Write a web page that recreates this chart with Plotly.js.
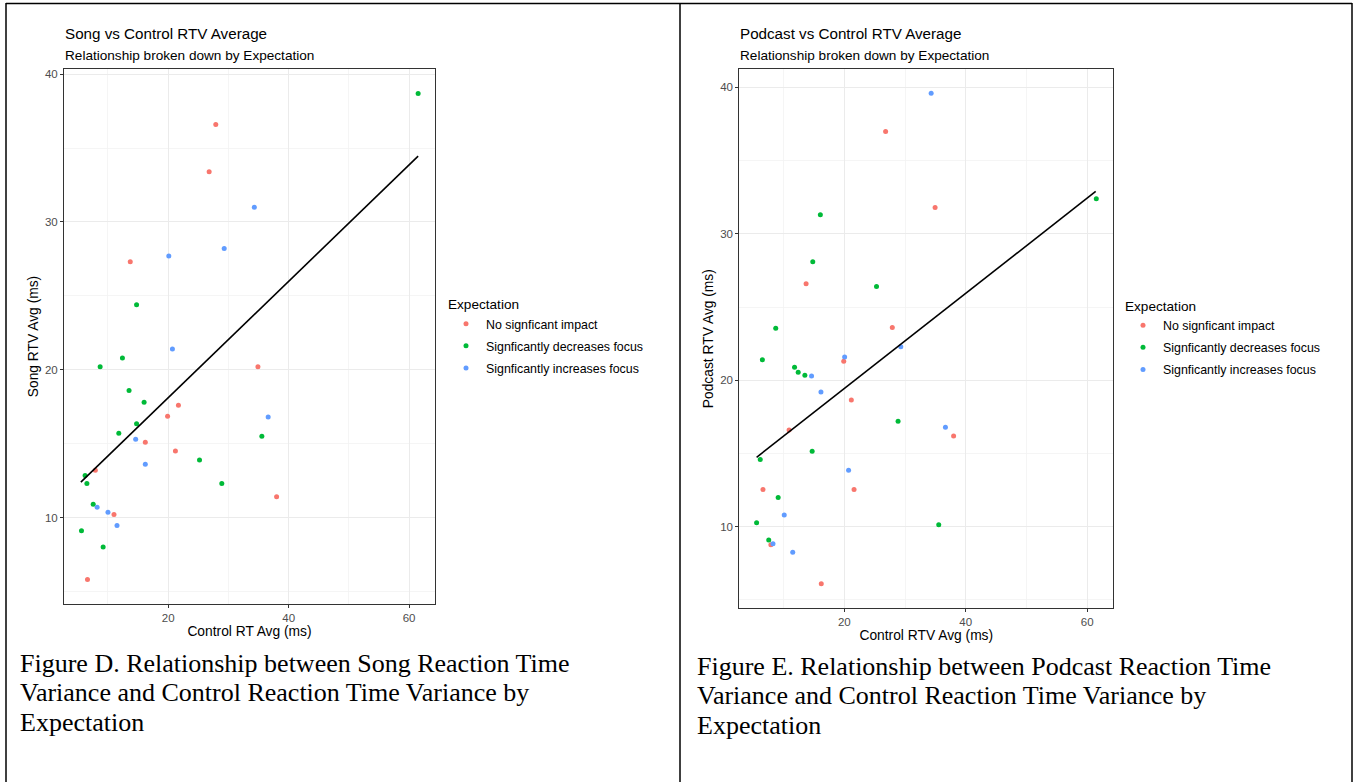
<!DOCTYPE html>
<html>
<head>
<meta charset="utf-8">
<script src="https://cdn.plot.ly/plotly-3.0.1.min.js"></script>
<style>
html,body{margin:0;padding:0;background:#fff;}
#chart{width:1357px;height:782px;}
</style>
</head>
<body>
<div id="chart"></div>
<script>
// ---- Data ----
const groups = ["No signficant impact", "Signficantly decreases focus", "Signficantly increases focus"];
const groupColors = ["#F8766D", "#00BA38", "#619CFF"];

// Figure D: Song vs Control
const songNoX  = [27.9, 26.8, 13.7, 34.9, 21.7, 19.9, 16.2, 21.2, 7.9, 38.0, 11.0, 6.6];
const songNoY  = [36.6, 33.4, 27.3, 20.2, 17.6, 16.85, 15.1, 14.5, 13.2, 11.4, 10.2, 5.8];
const songDecX = [61.5, 14.75, 12.4, 8.7, 13.5, 16.0, 14.75, 11.8, 35.55, 25.2, 6.2, 6.5, 28.9, 7.55, 5.6, 9.2];
const songDecY = [38.7, 24.4, 20.8, 20.2, 18.6, 17.8, 16.35, 15.7, 15.5, 13.9, 12.85, 12.3, 12.3, 10.9, 9.1, 8.0];
const songIncX = [34.3, 29.3, 20.1, 20.7, 36.6, 14.6, 16.2, 8.2, 10.0, 11.5];
const songIncY = [31.0, 28.2, 27.7, 21.4, 16.8, 15.3, 13.6, 10.7, 10.35, 9.46];
const songFitX = [5.5, 61.5];
const songFitY = [12.4, 34.45];

// Figure E: Podcast vs Control
const podNoX  = [26.8, 34.95, 13.7, 27.9, 19.9, 21.15, 38.0, 10.9, 6.6, 21.6, 7.9, 16.2];
const podNoY  = [37.0, 31.8, 26.6, 23.6, 21.3, 18.65, 16.2, 16.6, 12.55, 12.55, 8.77, 6.1];
const podDecX = [16.05, 61.5, 14.8, 25.3, 8.7, 6.5, 11.8, 12.4, 13.5, 28.85, 14.7, 6.15, 9.1, 5.55, 35.55, 7.55];
const podDecY = [31.3, 32.4, 28.1, 26.4, 23.55, 21.4, 20.9, 20.55, 20.35, 17.2, 15.15, 14.6, 12.0, 10.27, 10.14, 9.1];
const podIncX = [34.3, 29.3, 20.05, 14.6, 16.15, 36.65, 20.7, 10.1, 8.25, 11.5];
const podIncY = [39.6, 22.3, 21.6, 20.3, 19.2, 16.8, 13.85, 10.8, 8.84, 8.25];
const podFitX = [5.55, 61.4];
const podFitY = [14.74, 32.9];

// Text
const titleD = "Song vs Control RTV Average";
const titleE = "Podcast vs Control RTV Average";
const subtitle = "Relationship broken down by Expectation";
const xTitleD = "Control RT Avg (ms)";
const yTitleD = "Song RTV Avg (ms)";
const xTitleE = "Control RTV Avg (ms)";
const yTitleE = "Podcast RTV Avg (ms)";
const legendTitle = "Expectation";
const captionD = ["Figure D. Relationship between Song Reaction Time", "Variance and Control Reaction Time Variance by", "Expectation"];
const captionE = ["Figure E. Relationship between Podcast Reaction Time", "Variance and Control Reaction Time Variance by", "Expectation"];

// ---- Build ----
const W = 1357, H = 782;
const px = v => v / W;
const py = v => 1 - v / H;

const songSets = [[songNoX, songNoY], [songDecX, songDecY], [songIncX, songIncY]];
const podSets  = [[podNoX, podNoY], [podDecX, podDecY], [podIncX, podIncY]];

const traces = [];
songSets.forEach((s, i) => traces.push({
  type: "scatter", mode: "markers", x: s[0], y: s[1], name: groups[i],
  xaxis: "x", yaxis: "y", legend: "legend", legendgroup: "d" + i,
  marker: {color: groupColors[i], size: 5}
}));
traces.push({type: "scatter", mode: "lines", x: songFitX, y: songFitY, xaxis: "x", yaxis: "y",
  showlegend: false, line: {color: "#000", width: 1.6}, hoverinfo: "skip"});
podSets.forEach((s, i) => traces.push({
  type: "scatter", mode: "markers", x: s[0], y: s[1], name: groups[i],
  xaxis: "x2", yaxis: "y2", legend: "legend2", legendgroup: "e" + i,
  marker: {color: groupColors[i], size: 5}
}));
traces.push({type: "scatter", mode: "lines", x: podFitX, y: podFitY, xaxis: "x2", yaxis: "y2",
  showlegend: false, line: {color: "#000", width: 1.6}, hoverinfo: "skip"});

const font = "Liberation Sans, Arial, sans-serif";
function xa(domain, title, standoff) {
  return {
    domain: domain, range: [2.7, 64.3], tickmode: "linear", tick0: 0, dtick: 20,
    showgrid: true, gridcolor: "#EBEBEB", gridwidth: 1, zeroline: false,
    minor: {dtick: 10, tick0: 0, showgrid: true, gridcolor: "#F2F2F2", gridwidth: 0.8, ticklen: 0},
    showline: true, mirror: true, linecolor: "#333333", linewidth: 1,
    ticks: "outside", ticklen: 3, tickcolor: "#333333", tickwidth: 1,
    tickfont: {family: font, size: 11.5, color: "#4D4D4D"},
    title: {text: title, font: {family: font, size: 13.8, color: "#000"}, standoff: standoff}
  };
}
function ya(domain, range, title, standoff) {
  return {
    domain: domain, range: range, tickmode: "linear", tick0: 0, dtick: 10,
    showgrid: true, gridcolor: "#EBEBEB", gridwidth: 1, zeroline: false,
    minor: {dtick: 5, tick0: 0, showgrid: true, gridcolor: "#F2F2F2", gridwidth: 0.8, ticklen: 0},
    showline: true, mirror: true, linecolor: "#333333", linewidth: 1,
    ticks: "outside", ticklen: 3, tickcolor: "#333333", tickwidth: 1,
    tickfont: {family: font, size: 11.5, color: "#4D4D4D"},
    title: {text: title, font: {family: font, size: 13.8, color: "#000"}, standoff: standoff}
  };
}

function legendCfg(xpix, ypix) {
  return {
    x: px(xpix), y: py(ypix), xanchor: "left", yanchor: "top",
    bgcolor: "rgba(0,0,0,0)", borderwidth: 0,
    traceorder: "grouped", tracegroupgap: 3,
    title: {text: legendTitle, font: {family: font, size: 13.6, color: "#000"}},
    font: {family: font, size: 12.4, color: "#000"}
  };
}

const annotations = [];
function addText(txt, x, y, size, fam, color) {
  annotations.push({text: txt, x: px(x), y: py(y), xref: "paper", yref: "paper",
    xanchor: "left", yanchor: "middle", showarrow: false,
    font: {family: fam, size: size, color: color}});
}
addText(titleD, 63, 33.5, 15.2, font, "#000");
addText(subtitle, 63, 55, 13.6, font, "#000");
addText(titleE, 738, 33.5, 15.2, font, "#000");
addText(subtitle, 738, 55, 13.6, font, "#000");
const serif = "Liberation Serif, Times New Roman, serif";
captionD.forEach((t, i) => addText(t, 18, 663 + i * 29.5, 26, serif, "#000"));
captionE.forEach((t, i) => addText(t, 695, 666 + i * 29.5, 26, serif, "#000"));

const shapes = [
  {type: "line", xref: "paper", yref: "paper", x0: px(6), x1: px(1352), y0: py(3.5), y1: py(3.5), line: {color: "#000", width: 1.5}},
  {type: "line", xref: "paper", yref: "paper", x0: px(6), x1: px(6), y0: py(3), y1: py(782), line: {color: "#000", width: 1.5}},
  {type: "line", xref: "paper", yref: "paper", x0: px(680), x1: px(680), y0: py(3), y1: py(782), line: {color: "#000", width: 1.5}},
  {type: "line", xref: "paper", yref: "paper", x0: px(1352), x1: px(1352), y0: py(3), y1: py(782), line: {color: "#000", width: 1.5}}
];

const layout = {
  width: W, height: H, margin: {l: 0, r: 0, t: 0, b: 0},
  paper_bgcolor: "#fff", plot_bgcolor: "#fff",
  font: {family: font},
  showlegend: true,
  xaxis: xa([px(64), px(435)], xTitleD, 2),
  yaxis: ya([py(604), py(69)], [4.15, 40.35], yTitleD, 3),
  xaxis2: Object.assign(xa([px(739.3), px(1113.3)], xTitleE, 2), {anchor: "y2"}),
  yaxis2: Object.assign(ya([py(608.3), py(69)], [4.43, 41.26], yTitleE, 3), {anchor: "x2"}),
  legend: legendCfg(446, 291.5),
  legend2: legendCfg(1123, 293),
  annotations: annotations,
  shapes: shapes
};

Plotly.newPlot("chart", traces, layout, {displayModeBar: false, staticPlot: true});
</script>
</body>
</html>
